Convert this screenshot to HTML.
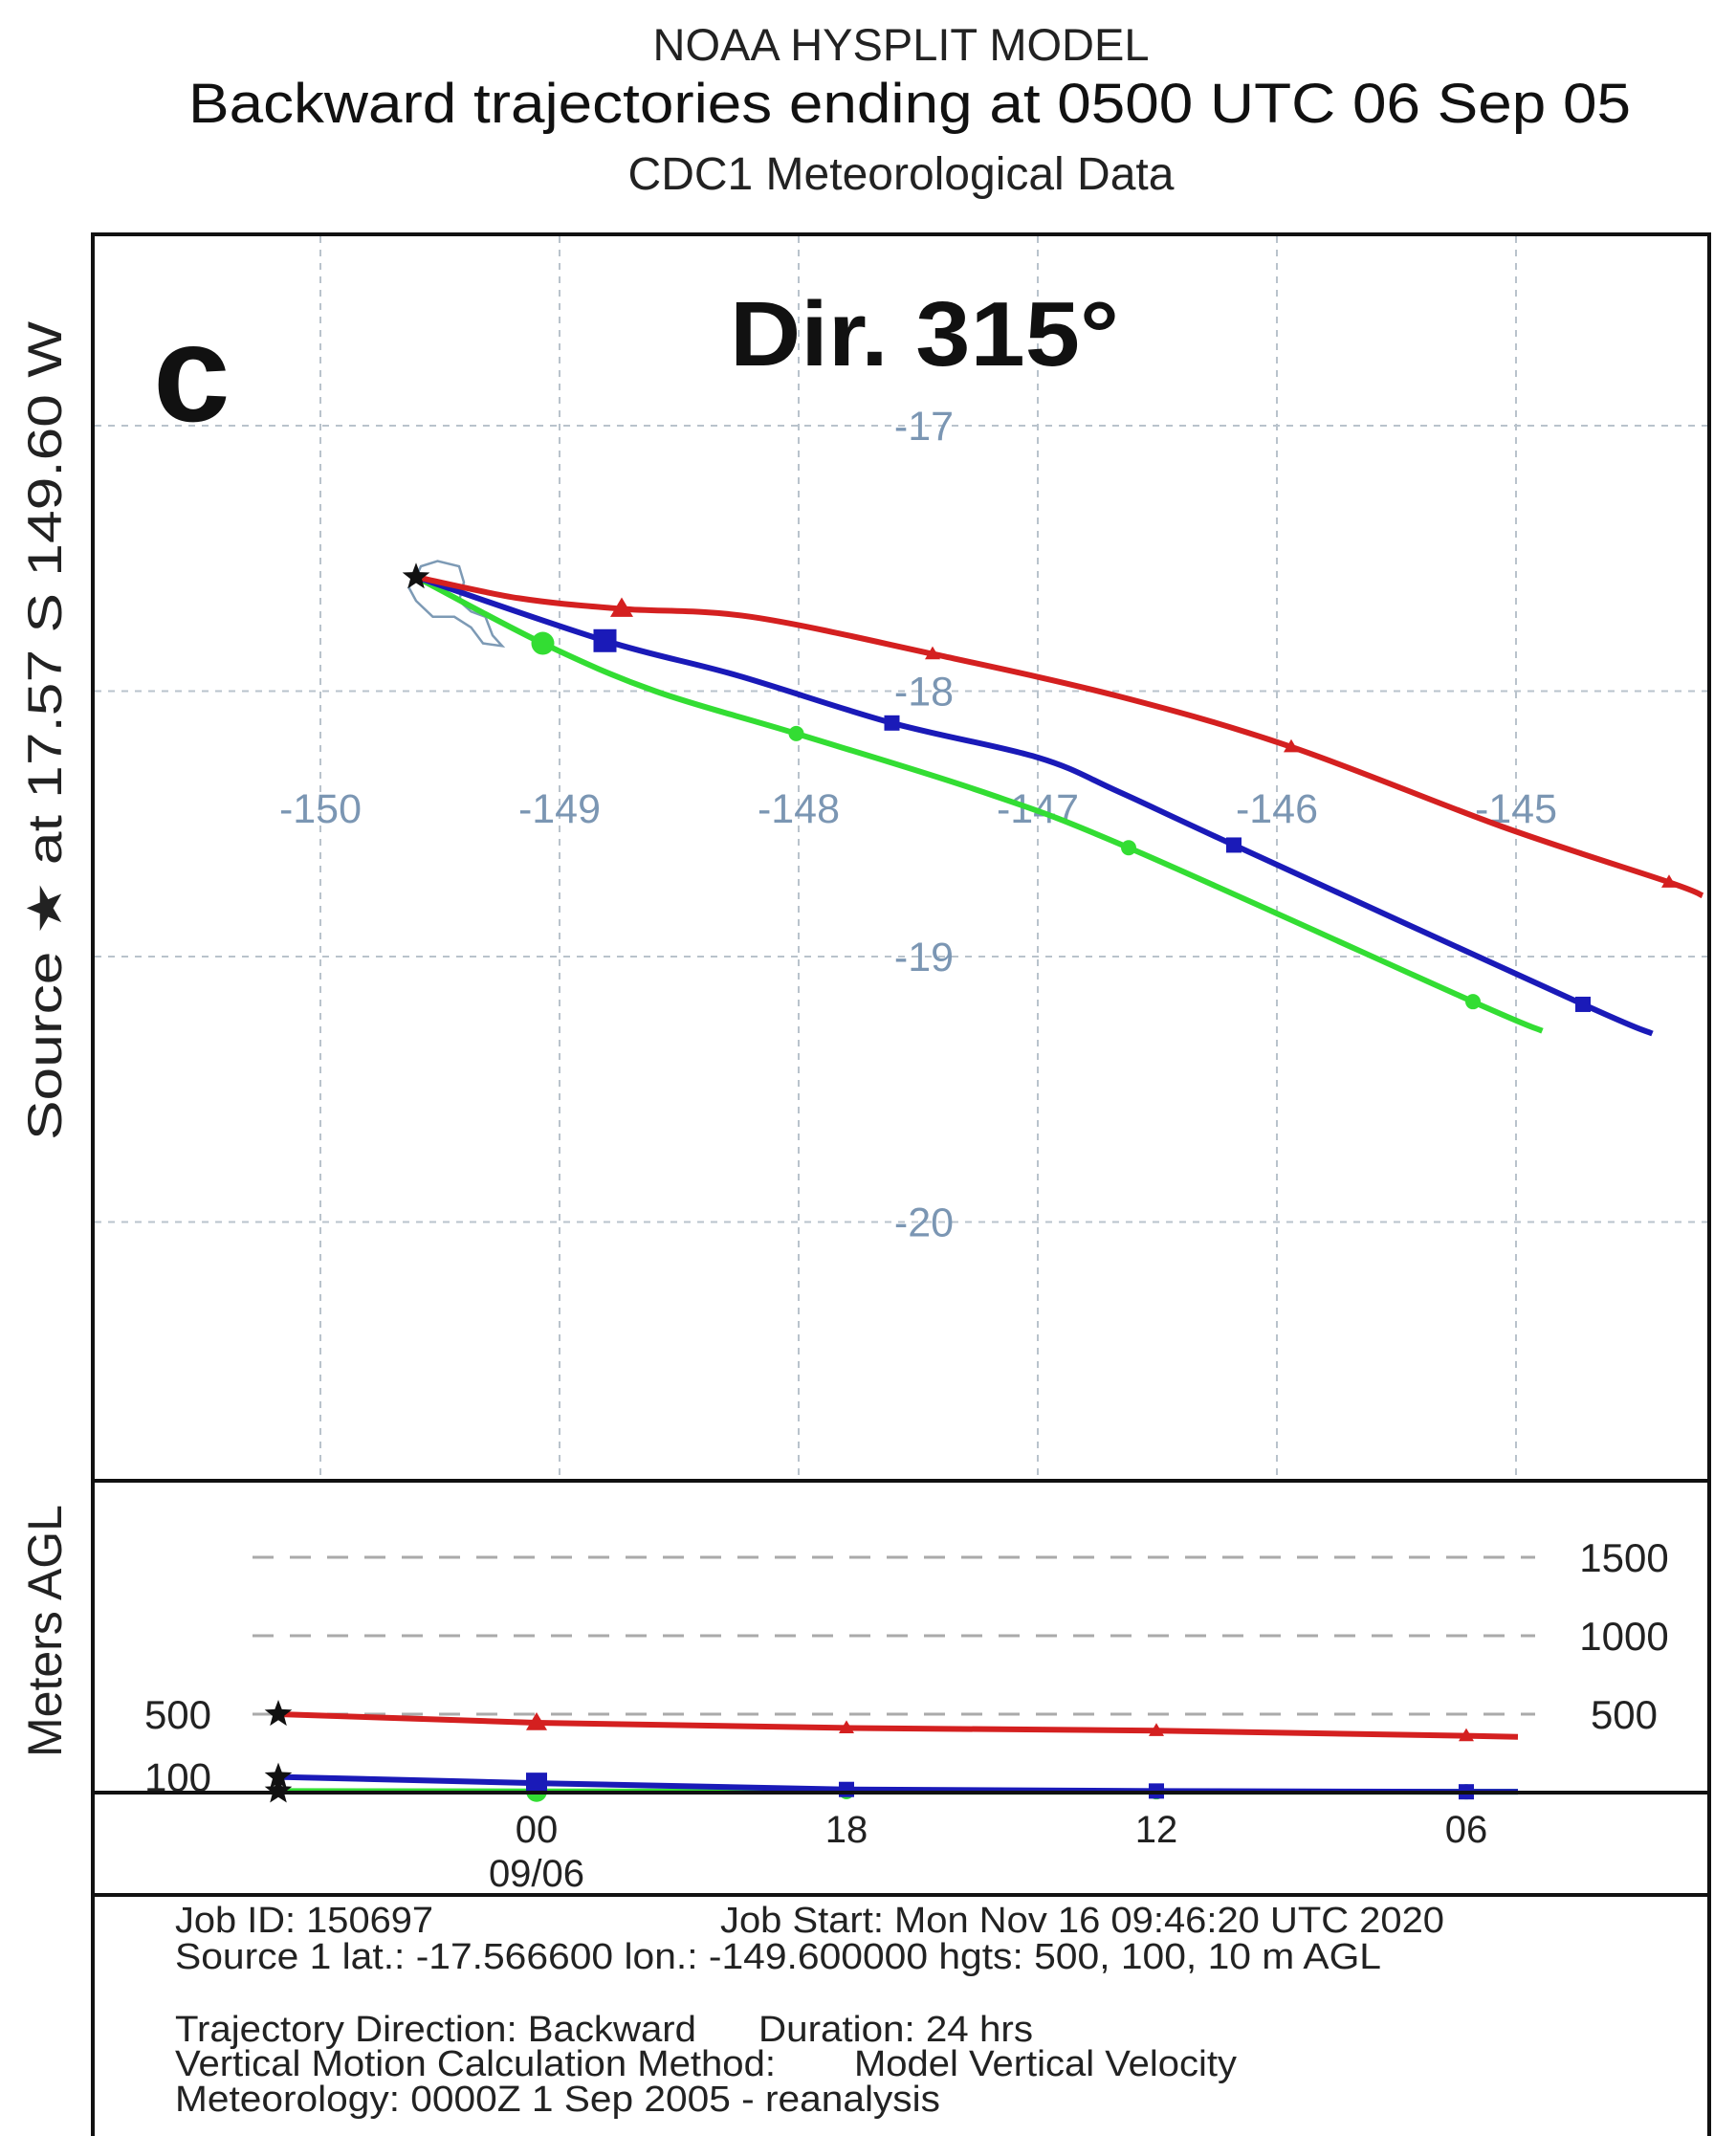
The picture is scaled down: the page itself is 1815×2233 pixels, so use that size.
<!DOCTYPE html>
<html><head><meta charset="utf-8"><style>
html,body{margin:0;padding:0;background:#fff;}
svg{display:block;font-family:"Liberation Sans",Arial,sans-serif;}
</style></head><body>
<svg id="c" width="1815" height="2233" viewBox="0 0 1815 2233">
<text x="942" y="63" font-size="47" text-anchor="middle" fill="#222">NOAA HYSPLIT MODEL</text>
<text x="197" y="128" font-size="58" fill="#111" textLength="1508" lengthAdjust="spacingAndGlyphs">Backward trajectories ending at 0500 UTC 06 Sep 05</text>
<text x="942" y="198" font-size="48" text-anchor="middle" fill="#222">CDC1 Meteorological Data</text>
<text transform="translate(64,1192) rotate(-90)" font-size="50" fill="#222" textLength="856" lengthAdjust="spacingAndGlyphs">Source ★  at  17.57 S  149.60 W</text>
<text transform="translate(64,1705) rotate(-90)" font-size="50" text-anchor="middle" fill="#222">Meters AGL</text>
<g id="map"></g>
<g id="vert"></g>
<rect x="97" y="245" width="1690" height="2010" fill="none" stroke="#111" stroke-width="4"/>
<line x1="97" y1="1548" x2="1787" y2="1548" stroke="#111" stroke-width="4"/>
<line x1="97" y1="1981" x2="1787" y2="1981" stroke="#111" stroke-width="4"/>
<text x="160" y="440" font-size="145" font-weight="bold" fill="#111">c</text>
<text x="763" y="382" font-size="96" font-weight="bold" fill="#111" textLength="407" lengthAdjust="spacingAndGlyphs">Dir. 315°</text>
<g font-size="38" fill="#222">
<text x="183" y="2020" textLength="270" lengthAdjust="spacingAndGlyphs">Job ID: 150697</text>
<text x="753" y="2020" textLength="757" lengthAdjust="spacingAndGlyphs">Job Start: Mon Nov 16 09:46:20 UTC 2020</text>
<text x="183" y="2058" textLength="1261" lengthAdjust="spacingAndGlyphs">Source 1 lat.: -17.566600  lon.: -149.600000  hgts: 500, 100, 10 m AGL</text>
<text x="183" y="2134" textLength="545" lengthAdjust="spacingAndGlyphs">Trajectory Direction: Backward</text>
<text x="793" y="2134" textLength="287" lengthAdjust="spacingAndGlyphs">Duration: 24 hrs</text>
<text x="183" y="2170" textLength="628" lengthAdjust="spacingAndGlyphs">Vertical Motion Calculation Method:</text>
<text x="893" y="2170" textLength="400" lengthAdjust="spacingAndGlyphs">Model Vertical Velocity</text>
<text x="183" y="2207" textLength="800" lengthAdjust="spacingAndGlyphs">Meteorology: 0000Z  1 Sep 2005 - reanalysis</text>
</g>
</svg>
<script>
const lonTicks=[-150,-149,-148,-147,-146,-145];
const latTicks=[-17,-18,-19,-20];
const redLon=[-149.6,-149.17,-148.74,-148.2,-147.44,-146.66,-145.94,-145.06,-144.36,-144.22];
const redLat=[-17.57,-17.65,-17.69,-17.72,-17.86,-18.02,-18.21,-18.51,-18.72,-18.77];
const redMarkIdx=[2,4,6,8];
const blueLon=[-149.6,-148.81,-148.26,-147.61,-147.0,-146.66,-146.18,-144.72,-144.43];
const blueLat=[-17.57,-17.81,-17.94,-18.12,-18.25,-18.38,-18.58,-19.18,-19.29];
const blueMarkIdx=[1,3,6,7];
const greenLon=[-149.6,-149.07,-148.6,-148.01,-147.23,-146.62,-145.18,-144.89];
const greenLat=[-17.57,-17.82,-18.0,-18.16,-18.38,-18.59,-19.17,-19.28];
const greenMarkIdx=[1,3,5,6];
const coastLon=[-149.6,-149.58,-149.51,-149.42,-149.4,-149.42,-149.37,-149.31,-149.28,-149.24,-149.32,-149.37,-149.44,-149.53,-149.6,-149.63];
const coastLat=[-17.57,-17.53,-17.51,-17.53,-17.59,-17.66,-17.7,-17.72,-17.79,-17.83,-17.82,-17.76,-17.72,-17.72,-17.66,-17.61];
const hrs=[0,5,11,17,23,24];
const redH=[500,445,412,395,362,355];
const blueH=[100,60,20,10,5,5];
const greenH=[10,8,6,5,5,5];
const heightTicks=[500,1000,1500];
const timeTicks=[5,11,17,23];
const timeLabels=["00","18","12","06"];

const NS="http://www.w3.org/2000/svg";
const X=lon=>335+(lon+150)*250;
const Y=lat=>445-(lat+17)*277.5;
const TX=h=>291+h*54;
const HY=m=>1874-m*0.164;
function mk(tag,attrs,parent){const e=document.createElementNS(NS,tag);for(const k in attrs)e.setAttribute(k,attrs[k]);parent.appendChild(e);return e;}
function smooth(pts){
 let d='M'+pts[0][0]+','+pts[0][1];
 for(let i=0;i<pts.length-1;i++){
  const p0=pts[Math.max(0,i-1)],p1=pts[i],p2=pts[i+1],p3=pts[Math.min(pts.length-1,i+2)];
  const c1=[p1[0]+(p2[0]-p0[0])/6,p1[1]+(p2[1]-p0[1])/6],c2=[p2[0]-(p3[0]-p1[0])/6,p2[1]-(p3[1]-p1[1])/6];
  d+=` C${c1[0].toFixed(1)},${c1[1].toFixed(1)} ${c2[0].toFixed(1)},${c2[1].toFixed(1)} ${p2[0].toFixed(1)},${p2[1].toFixed(1)}`;
 }
 return d;
}
const map=document.getElementById('map'),vert=document.getElementById('vert');

lonTicks.forEach(v=>{
 const l=mk('line',{x1:X(v),y1:247,x2:X(v),y2:1546,stroke:'#b9c3cc','stroke-width':2,'stroke-dasharray':'7 7'},map);
 
 
 const t=mk('text',{x:X(v),y:860,'font-size':43,'text-anchor':'middle',fill:'#7b96b3'},map);t.textContent=v;
 
 
});
latTicks.forEach(v=>{
 const l=mk('line',{x1:99,y1:Y(v),x2:1785,y2:Y(v),stroke:'#b9c3cc','stroke-width':2,'stroke-dasharray':'7 7'},map);
 
 
 const t=mk('text',{x:966,y:Y(v)+15,'font-size':43,'text-anchor':'middle',fill:'#7b96b3'},map);t.textContent=v;
 
 
});
const cst=mk('polygon',{points:coastLon.map((v,i)=>X(v)+','+Y(coastLat[i])).join(' '),fill:'none',stroke:'#7d9ab5','stroke-width':2.5},map);



function marker(kind,x,y,col,sz,parent){
 let e;
 if(kind==='tri')e=mk('polygon',{points:`${x},${y-sz} ${x-sz},${y+sz*0.7} ${x+sz},${y+sz*0.7}`,fill:col},parent);
 else if(kind==='sq')e=mk('rect',{x:x-sz,y:y-sz,width:2*sz,height:2*sz,fill:col},parent);
 else e=mk('circle',{cx:x,cy:y,r:sz,fill:col},parent);
 return e;
}
function star(x,y,r,parent){
 let p=[];for(let i=0;i<10;i++){const a=-Math.PI/2+i*Math.PI/5,rr=i%2?r*0.42:r;p.push((x+rr*Math.cos(a)).toFixed(1)+','+(y+rr*Math.sin(a)).toFixed(1));}
 return mk('polygon',{points:p.join(' '),fill:'#111'},parent);
}
const series=[
 {n:'red',c:'#d42020',lon:redLon,lat:redLat,idx:redMarkIdx,k:'tri',h:redH},
 {n:'blue',c:'#1a1ab8',lon:blueLon,lat:blueLat,idx:blueMarkIdx,k:'sq',h:blueH},
 {n:'green',c:'#33dd33',lon:greenLon,lat:greenLat,idx:greenMarkIdx,k:'circ',h:greenH}
];
series.slice().reverse().forEach(s=>{
 const pl=mk('path',{d:smooth(s.lon.map((v,i)=>[X(v),Y(s.lat[i])])),fill:'none',stroke:s.c,'stroke-width':6,'stroke-linejoin':'round'},map);
 
 
 s.idx.forEach((i,j)=>{
  const m=marker(s.k,X(s.lon[i]),Y(s.lat[i]),s.c,j===0?12:8,map);
  
  
 });
});
const st=star(X(-149.6),Y(-17.57),15,map);



heightTicks.forEach(v=>{
 const l=mk('line',{x1:264,y1:HY(v),x2:1605,y2:HY(v),stroke:'#aaa','stroke-width':3,'stroke-dasharray':'22 17'},vert);
 
 
 const t=mk('text',{x:1698,y:HY(v)+15,'font-size':42,'text-anchor':'middle',fill:'#222'},vert);t.textContent=v;
 
 
});
[[500,'500'],[100,'100']].forEach(a=>{
 const t=mk('text',{x:186,y:HY(a[0])+15,'font-size':42,'text-anchor':'middle',fill:'#222'},vert);t.textContent=a[1];
 
 
});
timeTicks.forEach((h,i)=>{
 const t=mk('text',{x:TX(h),y:1926,'font-size':40,'text-anchor':'middle',fill:'#222'},vert);t.textContent=timeLabels[i];
 
 
});
const dl=mk('text',{x:TX(5),y:1972,'font-size':40,'text-anchor':'middle',fill:'#222'},vert);dl.textContent='09/06';


series.slice().reverse().forEach(s=>{
 const pl=mk('polyline',{points:hrs.map((h,i)=>TX(h)+','+HY(s.h[i])).join(' '),fill:'none',stroke:s.c,'stroke-width':6},vert);
 
 
 for(let i=1;i<hrs.length-1;i++){
  const m=marker(s.k,TX(hrs[i]),HY(s.h[i]),s.c,i===1?11:8,vert);
  
  
 }
 const ss=star(TX(0),HY(s.h[0]),15,vert);
 
 
});
const zl=mk('line',{x1:97,y1:1874,x2:1787,y2:1874,stroke:'#111','stroke-width':4},vert);


</script>
</body></html>
